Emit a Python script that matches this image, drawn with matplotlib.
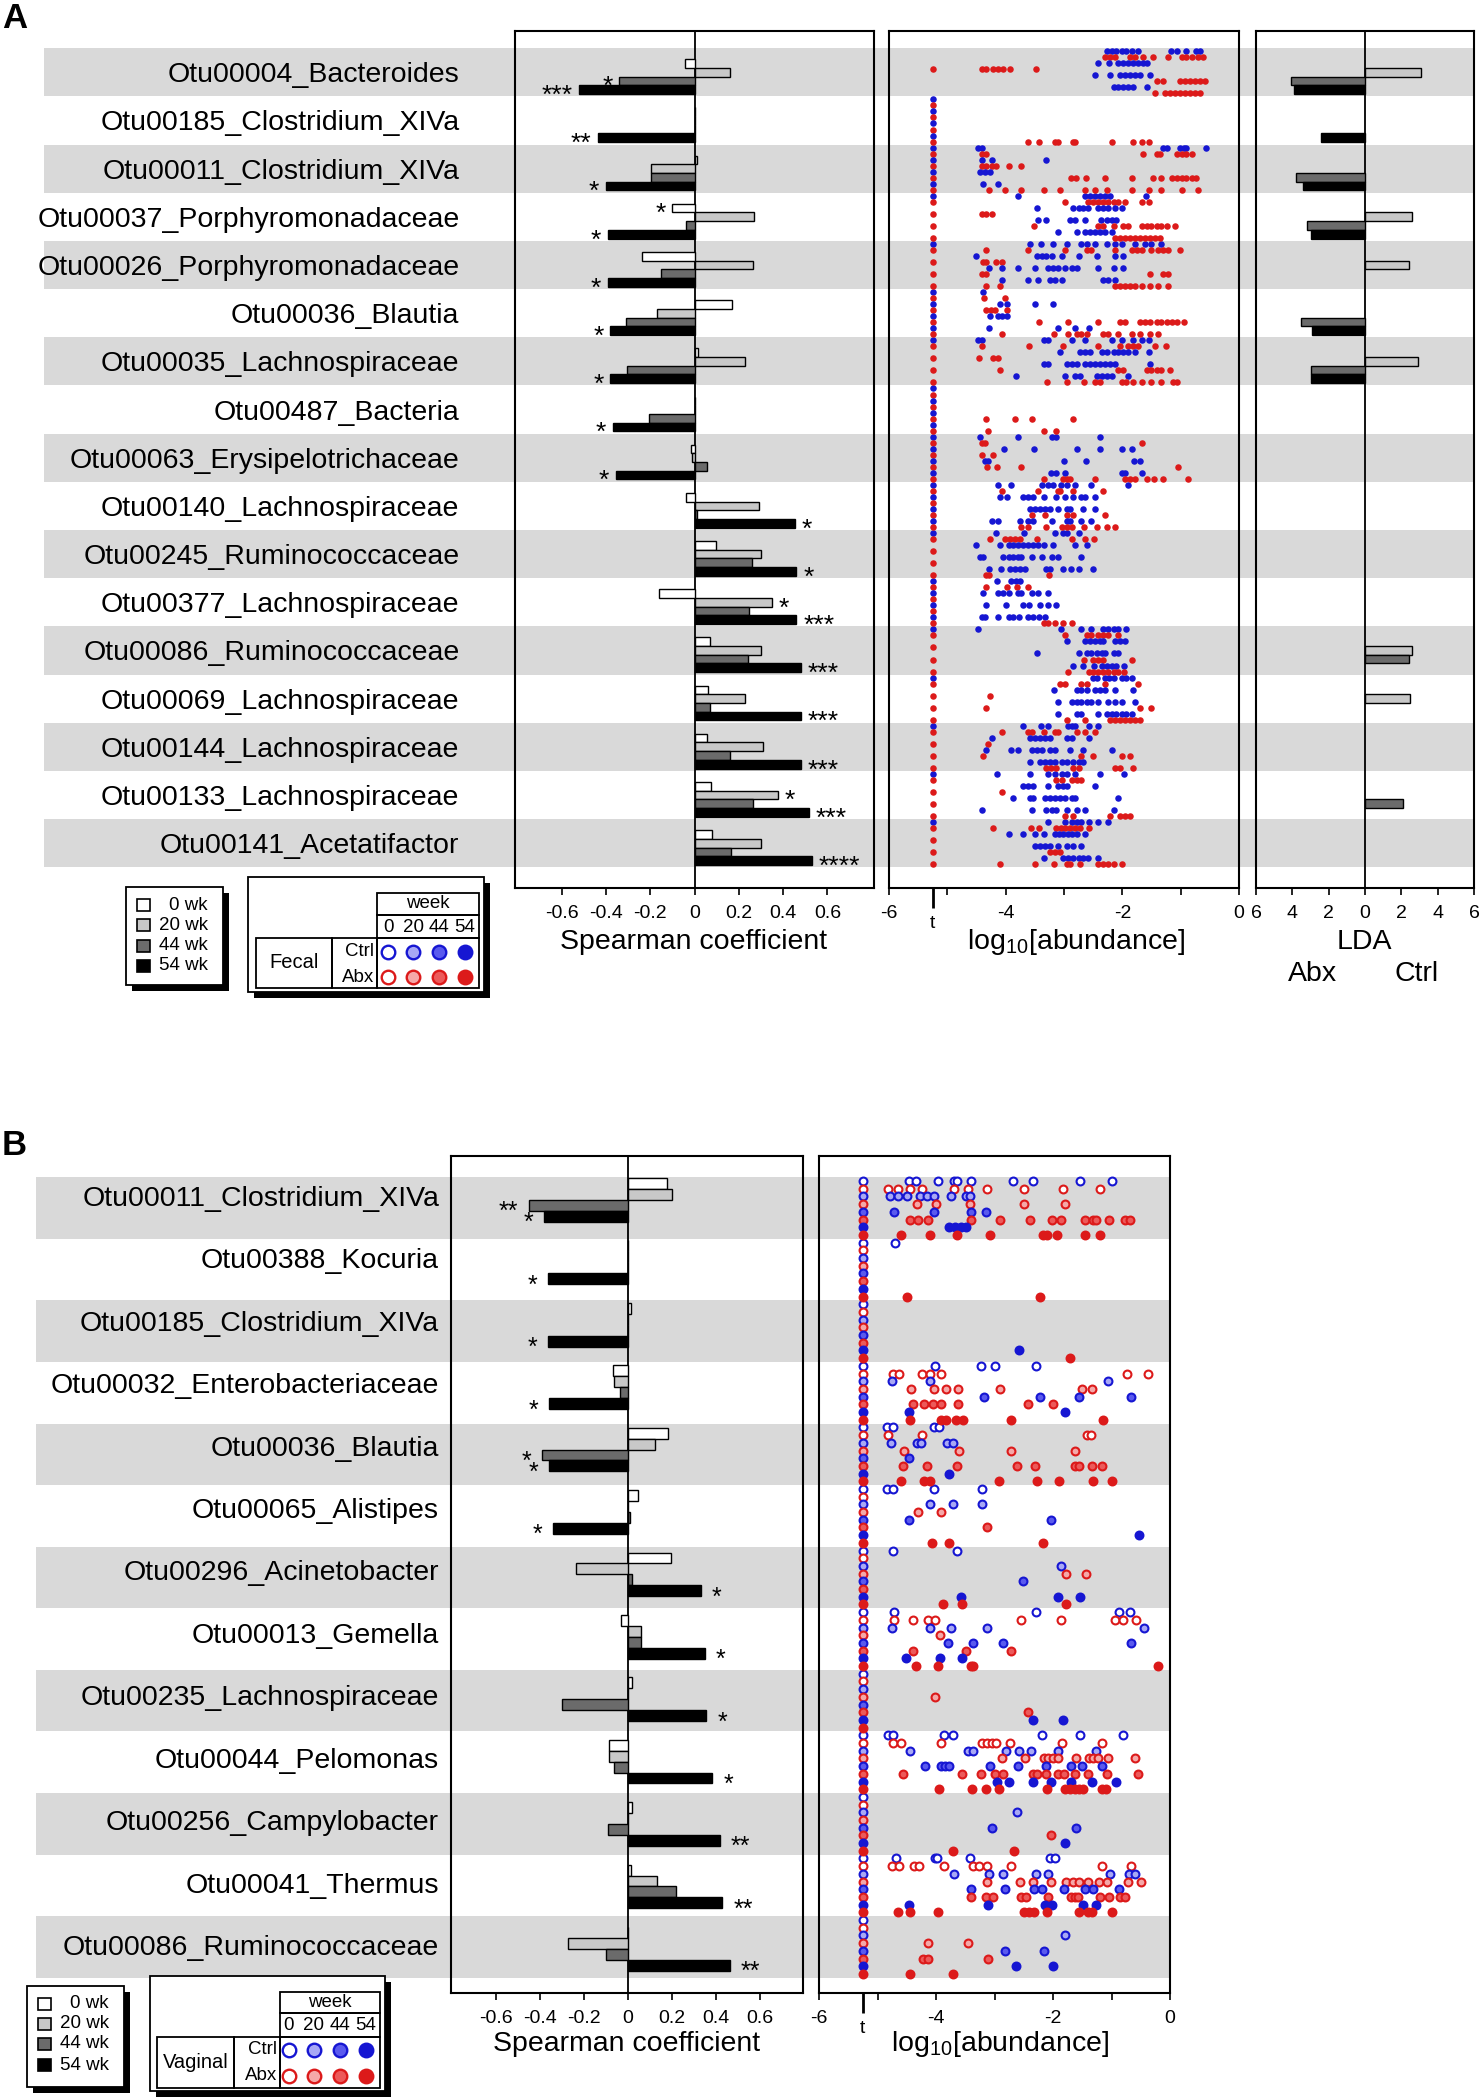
import matplotlib
matplotlib.use("Agg")
import matplotlib.pyplot as plt
import numpy as np
from matplotlib.patches import Rectangle
from matplotlib.transforms import blended_transform_factory

plt.rcParams["font.family"] = ["Liberation Sans", "DejaVu Sans"]
plt.rcParams["mathtext.fontset"] = "custom"
plt.rcParams["mathtext.rm"] = "Liberation Sans"

W, H = 1481, 2100
T = -5.25  # x position of the "t" column (below detection)
LABEL_FS = 20.5
TICK_FS = 14
LEG_FS = 13.5

weeks = ["0 wk", "20 wk", "44 wk", "54 wk"]
week_nums = ["0", "20", "44", "54"]
bar_colors = ["white", "#c8c8c8", "#6b6b6b", "black"]
blue, red = "#1616d2", "#dc1a1a"
ctrl_fills = ["white", "#a8a8f5", "#5a5aee", blue]
abx_fills = ["white", "#f5a8a8", "#ec5a5a", red]

# ---------------- panel A (fecal) ----------------
fecal_otus = ["Otu00004_Bacteroides", "Otu00185_Clostridium_XIVa", "Otu00011_Clostridium_XIVa",
              "Otu00037_Porphyromonadaceae", "Otu00026_Porphyromonadaceae", "Otu00036_Blautia",
              "Otu00035_Lachnospiraceae", "Otu00487_Bacteria", "Otu00063_Erysipelotrichaceae",
              "Otu00140_Lachnospiraceae", "Otu00245_Ruminococcaceae", "Otu00377_Lachnospiraceae",
              "Otu00086_Ruminococcaceae", "Otu00069_Lachnospiraceae", "Otu00144_Lachnospiraceae",
              "Otu00133_Lachnospiraceae", "Otu00141_Acetatifactor"]
fecal_rho_0 = [-0.045, 0.0, 0.01, -0.10, -0.235, 0.17, 0.017, 0.0, -0.017, -0.04, 0.096, -0.16, 0.07, 0.06, 0.055, 0.075, 0.08]
fecal_rho_20 = [0.16, 0.0, -0.195, 0.27, 0.265, -0.17, 0.23, 0.0, -0.01, 0.29, 0.30, 0.35, 0.30, 0.23, 0.31, 0.375, 0.30]
fecal_rho_44 = [-0.34, 0.0, -0.195, -0.04, -0.15, -0.31, -0.305, -0.205, 0.055, 0.01, 0.26, 0.245, 0.24, 0.07, 0.16, 0.265, 0.165]
fecal_rho_54 = [-0.52, -0.435, -0.40, -0.39, -0.39, -0.38, -0.38, -0.37, -0.355, 0.455, 0.46, 0.46, 0.48, 0.48, 0.48, 0.515, 0.53]
fecal_stars = [(0, 2, "*"), (0, 3, "***"), (1, 3, "**"), (2, 3, "*"), (3, 0, "*"), (3, 3, "*"),
               (4, 3, "*"), (5, 3, "*"), (6, 3, "*"), (7, 3, "*"), (8, 3, "*"), (9, 3, "*"),
               (10, 3, "*"), (11, 1, "*"), (11, 3, "***"), (12, 3, "***"), (13, 3, "***"),
               (14, 3, "***"), (15, 1, "*"), (15, 3, "***"), (16, 3, "****")]
fecal_lda_20 = [3.1, 0, 0, 2.6, 2.4, 0, 2.9, 0, 0, 0, 0, 0, 2.6, 2.5, 0, 0, 0]
fecal_lda_44 = [-4.1, 0, -3.8, -3.2, 0, -3.5, -3.0, 0, 0, 0, 0, 0, 2.4, 0, 0, 2.1, 0]
fecal_lda_54 = [-3.9, -2.4, -3.4, -3.0, 0, -2.9, -3.0, 0, 0, 0, 0, 0, 0, 0, 0, 0, 0]

# log10 abundance, one list per OTU row, for each group
fecal_ctrl0 = [
    [-2.27, -2.18, -2.10, -2.01, -1.93, -1.84, -1.73, -1.16, -1.07, -0.90, -0.73, -0.67], [],
    [-4.47, -4.41, -1.30, -1.24, -1.01, -0.95, -0.90, -0.57],
    [-3.78, -2.64, -2.55, -2.47, -2.38, -2.30, -2.21, -1.60],
    [-3.58, -3.40, -3.18, -2.94, -2.70, -2.61, -2.47, -2.27, -2.13, -2.00, -1.78, -1.61, -1.50, -1.33],
    [-4.39],
    [-4.48, -4.40, -3.35, -3.27, -2.87, -2.64, -2.17, -2.01, -1.81, -1.67, -1.55], [],
    [-4.44, -3.78, -3.21, -3.13, -2.38],
    [-4.13, -3.90, -3.37, -3.27, -3.18, -3.05, -2.95, -2.81, -2.53, -1.91],
    [-4.17, -3.68, -3.15, -3.01, -2.94, -2.75],
    [-4.15, -3.91, -3.83, -3.75],
    [-4.47, -3.05, -2.71, -2.53, -2.33, -2.24, -2.15, -2.07, -1.94],
    [-2.51, -2.44, -2.30, -2.23, -2.15, -2.01, -1.93, -1.84],
    [-3.70, -3.40, -3.27, -2.93, -2.86, -2.81, -2.57, -2.41],
    [-4.14, -3.58, -3.27, -3.15, -3.04, -2.95, -2.81, -2.38, -1.97],
    [-3.28, -2.98, -2.87, -2.77, -2.70, -2.57, -2.41, -2.24]]
fecal_abx0 = [
    [-2.30, -2.21, -2.13, -1.87, -1.78, -1.64, -1.47, -1.21, -0.98, -0.90, -0.81, -0.70, -0.61], [],
    [-4.41, -4.33, -1.64, -1.41, -1.35, -1.07, -0.98, -0.90, -0.81],
    [-2.98, -2.58, -2.50, -2.41, -2.33, -2.24, -2.15, -2.07, -1.95, -1.67, -1.55],
    [-4.33, -3.62, -2.98, -2.61, -2.53, -2.13, -1.84, -1.75, -1.67, -1.50, -1.38, -1.30, -1.21, -1.01],
    [-4.37, -4.01],
    [-4.40, -3.60, -3.01, -2.41, -2.04, -1.90, -1.81, -1.73, -1.44, -1.25], [],
    [-4.41, -4.35, -1.67],
    [-4.06, -3.44, -3.11, -3.07, -2.84, -2.33],
    [-4.27, -4.01, -3.93, -3.84, -3.75, -3.47, -2.86, -2.64, -2.48],
    [-4.33, -3.98, -3.81, -3.61],
    [-2.98, -2.61, -2.54, -2.41, -2.33, -2.24, -2.07],
    [-3.07, -2.98, -2.70, -2.61, -2.30, -1.73],
    [-4.06, -3.62, -3.55, -3.35, -3.15, -3.10, -2.78, -2.64, -2.46],
    [-3.13, -3.04, -2.87, -2.78, -2.70],
    [-4.22, -3.57, -3.43, -3.13, -3.05, -2.98, -2.90, -2.81, -2.73, -2.57]]
fecal_ctrl20 = [
    [-2.41, -2.23, -2.07, -1.98, -1.90, -1.81, -1.73, -1.64, -1.58], [],
    [-4.40, -4.24, -3.30],
    [-3.47, -2.84, -2.75, -2.67, -2.58, -2.41, -2.33, -2.24, -2.13, -2.01],
    [-4.50, -3.47, -3.38, -3.30, -3.21, -3.04, -2.75, -2.44, -2.13, -1.98],
    [-4.10, -3.97, -3.50, -3.18],
    [-3.07, -2.73, -2.64, -2.55, -2.35, -2.27, -2.15, -2.07, -1.98, -1.90, -1.78, -1.54], [],
    [-4.02, -3.51, -2.77, -2.38, -2.01, -1.83],
    [-4.09, -3.97, -3.70, -3.61, -3.53, -3.35, -3.13, -2.98, -2.84, -2.70, -2.64, -2.47],
    [-4.50, -4.10, -3.95, -3.87, -3.78, -3.70, -3.61, -3.53, -3.44, -3.35, -3.18, -2.81, -2.61],
    [-4.38, -4.13, -4.04, -3.95, -3.79, -3.73, -3.55, -3.44, -3.27],
    [-2.94, -2.64, -2.55, -2.47, -2.38, -2.33, -2.13, -2.04, -1.95],
    [-3.17, -2.78, -2.70, -2.61, -2.47, -2.38, -2.30, -2.13, -1.81],
    [-4.24, -3.58, -3.50, -3.41, -3.33, -3.24, -2.95, -2.87, -2.57],
    [-3.70, -3.61, -3.53, -3.27, -3.10, -3.01, -2.95, -2.47],
    [-3.95, -3.70, -3.50, -3.35, -3.15, -3.09, -3.01, -2.93, -2.86, -2.78, -2.64]]
fecal_abx20 = [
    [-4.41, -4.33, -4.21, -4.13, -4.04, -3.93, -3.48], [],
    [-4.41, -4.33, -4.24, -4.16, -3.94, -3.74],
    [-4.41, -4.33, -4.24],
    [-4.38, -4.33, -4.16, -4.07],
    [-4.33, -4.25, -4.18, -3.98],
    [-4.46, -4.21, -4.13], [],
    [-4.40, -4.21], [], [], [], [],
    [-4.27], [-4.31], [-4.06], []]
fecal_ctrl44 = [
    [-2.46, -2.21, -2.04, -1.95, -1.87, -1.78, -1.70, -1.53], [],
    [-4.44, -4.35, -4.27],
    [-3.45, -3.30, -2.90, -2.81, -2.64, -2.36, -2.27, -2.18, -2.10],
    [-4.29, -4.07, -3.78, -3.50, -3.27, -3.18, -3.10, -2.98, -2.87, -2.78, -2.41, -2.15, -1.98],
    [-4.27, -4.13, -4.06, -3.97],
    [-3.34, -3.27, -2.95, -2.87, -2.78, -2.64, -2.55, -2.47, -2.38, -2.30, -2.21, -2.13, -1.53], [],
    [-4.35, -4.30, -3.00, -2.63, -1.80, -1.70],
    [-3.58, -3.50, -3.41, -3.33, -3.24, -3.10, -2.95, -2.90, -2.67, -2.46],
    [-4.44, -4.38, -4.04, -3.95, -3.87, -3.78, -3.73, -3.55, -3.38, -3.21, -3.10, -2.71],
    [-4.34, -4.00, -3.71, -3.60, -3.41, -3.28, -3.13],
    [-3.47, -2.75, -2.61, -2.53, -2.44, -2.35, -2.30, -2.14, -2.07],
    [-3.10, -2.87, -2.78, -2.70, -2.61, -2.53, -2.41, -2.25, -2.13, -2.00, -1.78],
    [-4.33, -3.90, -3.79, -3.55, -3.47, -3.38, -3.24, -3.15, -2.90, -2.67, -2.18],
    [-3.88, -3.58, -3.53, -3.33, -3.24, -3.15, -3.07, -2.98, -2.87, -2.81, -2.07],
    [-3.49, -3.41, -3.33, -3.24, -3.10, -2.95, -2.84, -2.70]]
fecal_abx44 = [
    [-1.41, -1.30, -1.01, -0.93, -0.84, -0.75, -0.67, -0.58], [],
    [-2.88, -2.80, -2.63, -2.30, -1.83, -1.47, -1.33, -1.15, -1.07, -0.98, -0.90, -0.81, -0.73],
    [-3.51, -2.41, -2.33, -2.15, -1.98, -1.90, -1.67, -1.58, -1.50, -1.41, -1.33, -1.24, -1.10],
    [-4.41, -4.33, -1.53, -1.30, -1.21],
    [-3.43, -2.93, -2.42, -2.04, -1.95, -1.70, -1.61, -1.53, -1.41, -1.33, -1.24, -1.15, -1.07, -0.95],
    [-4.10, -2.07, -1.98, -1.58, -1.50, -1.41, -1.33, -1.18],
    [-4.34, -3.84, -3.55, -2.84],
    [-4.32, -4.14, -3.73, -1.04],
    [-3.55, -3.33, -2.94, -2.84, -2.30], [], [],
    [-2.65, -2.50, -2.41, -2.33, -1.84],
    [-4.33, -1.70, -1.50],
    [-4.38, -2.70, -2.50, -2.01, -1.87], [],
    [-3.24, -3.15, -3.07]]
fecal_ctrl54 = [
    [-2.15, -2.07, -1.98, -1.90, -1.81, -1.58], [],
    [-4.38, -4.13],
    [-3.11, -2.77, -2.64, -2.55, -2.47, -2.38, -2.30, -2.18],
    [-4.07, -3.61, -3.44, -3.24, -3.15, -3.04, -2.33, -2.24, -2.13],
    [-4.29, -3.11, -2.81, -2.57],
    [-3.82, -2.98, -2.81, -2.73, -2.44, -2.35, -2.27, -2.18, -1.90], [],
    [-3.23, -3.13, -2.98, -2.01, -1.95, -1.66],
    [-4.24, -4.13, -3.75, -3.62, -3.53, -3.21, -2.94, -2.90, -2.70, -2.53],
    [-4.29, -4.08, -3.93, -3.84, -3.75, -3.67, -3.30, -3.24, -3.01, -2.88, -2.74, -2.50],
    [-4.41, -4.35, -4.13, -3.94, -3.87, -3.77, -3.62, -3.53, -3.43, -3.33],
    [-2.85, -2.67, -2.48, -2.35, -2.27, -2.18, -2.10, -1.97],
    [-3.10, -2.78, -2.70, -2.41, -2.27, -2.18, -2.10, -2.01, -1.93, -1.84],
    [-3.58, -3.41, -3.33, -3.24, -3.15, -3.04, -2.95, -2.84, -2.75, -2.67],
    [-4.41, -3.55, -3.30, -3.21, -3.13, -2.95, -2.78, -2.64, -2.14],
    [-3.34, -3.01, -2.93, -2.84, -2.75, -2.67, -2.58, -2.41]]
fecal_abx54 = [
    [-1.44, -1.27, -1.18, -1.10, -1.01, -0.93, -0.84, -0.75, -0.67],
    [-3.62, -3.42, -3.15, -3.10, -2.84, -2.81, -2.18, -1.81, -1.67, -1.54],
    [-4.28, -4.01, -3.73, -3.34, -3.07, -2.64, -2.46, -2.27, -1.83, -1.55, -1.33, -0.98, -0.71],
    [-2.13, -2.04, -1.95, -1.87, -1.78, -1.70, -1.61, -1.53, -1.44, -1.35],
    [-4.33, -4.10, -2.13, -2.04, -1.95, -1.87, -1.78, -1.67, -1.53, -1.38, -1.21],
    [-4.07, -3.17, -2.93, -2.78, -2.70, -2.61, -2.33, -2.24, -2.07, -1.84, -1.70, -1.53, -1.38],
    [-3.29, -2.94, -2.66, -2.47, -2.38, -2.01, -1.93, -1.81, -1.67, -1.50, -1.34, -1.13, -1.07],
    [-4.30, -3.34, -3.14],
    [-3.34, -3.01, -2.95, -2.90, -2.47, -1.95, -1.87, -1.78, -1.58, -1.45, -1.31, -0.88],
    [-3.73, -3.61, -3.30, -3.04, -2.95, -2.87, -2.66, -2.44, -2.27, -2.13],
    [-4.34, -4.29, -3.26],
    [-3.34, -3.27, -3.15, -3.01, -2.87],
    [-2.93, -2.57, -2.50, -2.41, -2.33, -2.24, -2.15, -2.07, -1.97],
    [-2.94, -2.64, -2.21, -2.13, -2.04, -1.95, -1.87, -1.78, -1.70],
    [-3.31, -3.22, -3.13, -2.84, -2.75, -2.13, -2.04, -1.81],
    [-2.98, -2.84, -2.21, -2.04, -1.95, -1.87],
    [-4.10, -3.49, -3.17, -2.95, -2.90, -2.73, -2.41, -2.33, -2.24, -2.15, -2.01]]
# rows in which each group has a dot in the "t" column
fecal_all = list(range(1, 17))
fecal_ctrl_t = [1, 2, 5, 7, 8, 9, 11]
fecal_t_rows = [fecal_all, fecal_all, fecal_ctrl_t, [0] + fecal_all,
                fecal_ctrl_t, fecal_all, fecal_ctrl_t, fecal_all]

# ---------------- panel B (vaginal) ----------------
vag_otus = ["Otu00011_Clostridium_XIVa", "Otu00388_Kocuria", "Otu00185_Clostridium_XIVa",
            "Otu00032_Enterobacteriaceae", "Otu00036_Blautia", "Otu00065_Alistipes",
            "Otu00296_Acinetobacter", "Otu00013_Gemella", "Otu00235_Lachnospiraceae",
            "Otu00044_Pelomonas", "Otu00256_Campylobacter", "Otu00041_Thermus",
            "Otu00086_Ruminococcaceae"]
vag_rho_0 = [0.178, 0.0, 0.015, -0.067, 0.183, 0.048, 0.195, -0.03, 0.02, -0.083, 0.02, 0.017, 0.0]
vag_rho_20 = [0.20, 0.0, 0.0, -0.06, 0.126, 0.0, -0.233, 0.06, 0.0, -0.083, 0.0, 0.135, -0.273]
vag_rho_44 = [-0.45, 0.0, 0.0, -0.036, -0.39, 0.01, 0.02, 0.06, -0.30, -0.06, -0.09, 0.22, -0.10]
vag_rho_54 = [-0.38, -0.36, -0.36, -0.357, -0.357, -0.34, 0.333, 0.35, 0.357, 0.385, 0.42, 0.43, 0.464]
vag_stars = [(0, 2, "**"), (0, 3, "*"), (1, 3, "*"), (2, 3, "*"), (3, 3, "*"), (4, 2, "*"),
             (4, 3, "*"), (5, 3, "*"), (6, 3, "*"), (7, 3, "*"), (8, 3, "*"), (9, 3, "*"),
             (10, 3, "**"), (11, 3, "**"), (12, 3, "**")]

vag_ctrl0 = [[-4.46, -4.34, -3.96, -3.69, -3.64, -3.40, -2.69, -2.35, -1.54, -1.00], [-4.70], [],
             [-4.01, -3.23, -3.00, -2.29], [-4.84, -4.73, -4.04, -3.95], [-4.84, -4.73, -4.04, -3.22],
             [-4.74, -3.64], [-4.71, -2.29, -0.87, -0.68], [],
             [-4.82, -4.74, -3.87, -3.71, -2.19, -1.54, -0.81], [],
             [-4.69, -4.01, -3.98, -3.42, -2.05, -1.96], []]
vag_abx0 = [[-4.82, -4.65, -4.44, -4.24, -3.69, -3.45, -3.13, -2.50, -1.83, -1.20], [], [],
            [-4.73, -4.63, -4.24, -4.11, -3.91, -0.73, -0.37], [-4.82, -4.24, -1.42, -1.35], [], [],
            [-4.71, -4.40, -4.13, -4.01, -2.55, -1.86, -0.94, -0.81, -0.58], [],
            [-4.74, -4.59, -3.92, -3.21, -3.13, -3.05, -2.98, -2.73, -1.85, -1.16], [],
            [-4.75, -4.63, -4.38, -4.29, -3.87, -3.37, -3.27, -3.13, -2.71, -1.16, -0.66], []]
vag_ctrl20 = [[-4.78, -4.65, -4.49, -4.28, -4.15, -4.04, -3.75, -3.48, -3.42], [], [],
              [-4.75, -4.11, -1.06], [-4.77, -4.32, -4.26, -3.81, -3.71], [-4.10, -3.71, -3.22],
              [-1.87], [-4.75, -4.11, -3.75, -3.13, -0.45], [],
              [-4.44, -3.46, -3.36, -2.81, -2.58, -2.37, -1.91, -1.27], [-2.62],
              [-3.69, -3.10, -2.85, -2.29, -2.09, -1.03, -0.70, -0.60], [-1.79]]
vag_abx20 = [[-4.32, -4.00, -3.42, -2.50, -1.80], [], [],
             [-4.43, -4.04, -3.83, -3.63, -2.91, -1.50, -1.33], [-4.55, -3.61, -2.72, -1.63],
             [-4.31, -3.92], [-1.77, -1.44], [-3.94], [-4.01],
             [-2.87, -2.48, -2.16, -2.08, -2.00, -1.91, -1.60, -1.39, -1.31, -1.23, -1.06, -0.60], [],
             [-3.13, -2.56, -2.35, -2.04, -1.77, -1.66, -1.56, -1.40, -1.22, -1.08, -0.71, -0.50],
             [-4.14, -3.46]]
vag_ctrl44 = [[-4.72, -4.04, -3.40, -3.15], [], [], [-3.18, -2.23, -1.56, -0.66], [-4.46],
              [-4.46, -2.04], [-2.52], [-3.79, -3.37, -2.85, -0.67], [],
              [-4.19, -3.92, -3.85, -3.77, -3.08, -2.60, -2.12, -1.70, -1.50, -1.17], [-3.04, -1.60],
              [-3.40, -2.82, -2.33, -2.19, -1.81, -1.46, -1.31, -0.87], [-2.82, -2.15]]
vag_abx44 = [[-4.44, -4.31, -4.13, -3.40, -2.91, -2.40, -2.02, -1.86, -1.45, -1.31, -1.26, -1.05, -0.77, -0.68],
             [], [], [-4.40, -4.21, -4.05, -3.91, -3.63, -2.42, -2.00],
             [-4.56, -4.15, -3.64, -2.62, -2.31, -1.62, -1.56, -1.33, -1.17], [-3.13], [],
             [-4.40, -3.48, -2.71], [-2.42],
             [-4.56, -3.55, -3.23, -3.00, -2.86, -2.35, -2.27, -2.12, -1.92, -1.81, -1.62, -1.40, -1.08, -0.54],
             [-2.03],
             [-3.41, -3.15, -3.02, -2.54, -2.46, -2.08, -1.70, -1.62, -1.58, -1.20, -1.04, -0.85, -0.77],
             [-4.23, -4.13, -3.11]]
vag_ctrl54 = [[-3.77, -3.67, -3.58, -3.48], [], [-2.58], [-4.46, -1.79], [-3.77], [-0.53],
              [-3.58, -1.91, -1.53], [-4.51, -3.94, -3.56], [-2.35, -1.83],
              [-2.95, -2.76, -2.34, -2.04, -1.70, -1.33, -0.93], [-1.79],
              [-4.46, -3.11, -2.13, -2.02, -1.48, -1.26], [-2.63, -2.00]]
vag_abx54 = [[-4.60, -4.11, -3.64, -3.07, -2.17, -2.11, -1.94, -1.46, -1.20], [-4.50, -2.23], [-1.71],
             [-4.44, -3.91, -3.83, -3.65, -3.54, -2.72, -1.14],
             [-4.60, -4.21, -4.11, -2.92, -2.27, -1.90, -1.31, -1.00], [-4.06, -3.78, -2.17],
             [-3.88, -3.55, -1.77], [-4.34, -3.96, -3.40, -3.36, -0.20], [],
             [-3.95, -3.39, -3.15, -2.92, -2.11, -1.80, -1.71, -1.63, -1.56, -1.48, -1.17, -1.10],
             [-3.71, -2.67],
             [-4.65, -4.44, -3.96, -2.49, -2.41, -2.33, -2.11, -1.56, -1.41, -1.33, -0.99],
             [-4.44, -3.71]]
vag_t_rows = [list(range(13))] * 8

fig = plt.figure(figsize=(W / 100, H / 100), dpi=100)


def px_axes(x0, y0, x1, y1):
    ax = fig.add_axes([x0 / W, 1 - y1 / H, (x1 - x0) / W, (y1 - y0) / H])
    ax.set_facecolor("none")
    for s in ax.spines.values():
        s.set_linewidth(1.5)
    return ax


def ftext(x, y, s, **kw):
    kw.setdefault("ha", "center")
    kw.setdefault("va", "baseline")
    kw.setdefault("fontsize", LABEL_FS)
    fig.text(x / W, 1 - y / H, s, **kw)


def bands(ax, n, x0, x1):
    tr = blended_transform_factory(fig.transFigure, ax.transData)
    for r in range(0, n, 2):
        fig.add_artist(Rectangle((x0 / W, r - 0.5), (x1 - x0) / W, 1.0, transform=tr,
                                 facecolor="#d9d9d9", edgecolor="none", zorder=-1))


def spearman(ax, otus, rhos, stars, offs, h, xlim, ylim, pad, star_fs, star_dy, gap):
    y = np.arange(len(otus))
    ax.axvline(0, color="black", lw=1.3, zorder=2)
    for k, vals in enumerate(rhos):
        ax.barh(y + offs[k], vals, height=h, color=bar_colors[k], edgecolor="black",
                linewidth=1.0, zorder=3)
    for r, k, lab in stars:
        v = rhos[k][r]
        x, ha = (v - gap, "right") if v < 0 else (v + gap, "left")
        ax.annotate(lab, (x, r + offs[k]), xytext=(0, -star_dy), textcoords="offset points",
                    ha=ha, va="baseline", fontsize=star_fs, zorder=5)
    ax.set_xlim(*xlim)
    ax.set_ylim(*ylim)
    ax.set_yticks(y, otus, fontsize=LABEL_FS)
    ax.tick_params(axis="y", length=0, pad=pad)
    xt = [-0.6, -0.4, -0.2, 0, 0.2, 0.4, 0.6]
    ax.set_xticks(xt, ["-0.6", "-0.4", "-0.2", "0", "0.2", "0.4", "0.6"])
    ax.tick_params(axis="x", direction="out", length=5, width=1.2, labelsize=TICK_FS, pad=7)


def abundance(ax, groups, t_rows, ylim, filled):
    for g, rows in enumerate(groups):
        xs, ys = [], []
        for r, vals in enumerate(rows):
            yy = r - 0.5 + (g + 0.5) / 8
            if r in t_rows[g]:
                xs.append(T)
                ys.append(yy)
            xs.extend(vals)
            ys.extend([yy] * len(vals))
        col = blue if g % 2 == 0 else red
        if filled:
            ax.scatter(xs, ys, s=22, color=col, linewidths=0, zorder=3)
        else:
            fc = (ctrl_fills if g % 2 == 0 else abx_fills)[g // 2]
            ax.scatter(xs, ys, s=32, facecolors=fc, edgecolors=col, linewidths=1.5, zorder=3)
    ax.set_xlim(-6, 0)
    ax.set_ylim(*ylim)
    ax.set_yticks([])
    ax.set_xticks(range(-6, 1), ["-6", "", "-4", "", "-2", "", "0"])
    ax.set_xticks([T], ["t"], minor=True)
    ax.tick_params(axis="x", which="major", direction="out", length=5, width=1.2, labelsize=TICK_FS, pad=7)
    ax.tick_params(axis="x", which="minor", direction="out", length=14.5, width=2, labelsize=TICK_FS, pad=5)


def lda(ax, vals_by_week, offs, h, ylim):
    ax.axvline(0, color="black", lw=1.3, zorder=2)
    for k, vals in zip([1, 2, 3], vals_by_week):
        idx = [i for i, v in enumerate(vals) if v != 0]
        ax.barh([i + offs[k] for i in idx], [vals[i] for i in idx], height=h,
                color=bar_colors[k], edgecolor="black", linewidth=1.0, zorder=3)
    ax.set_xlim(-6, 6)
    ax.set_ylim(*ylim)
    ax.set_yticks([])
    xt = list(range(-6, 7, 2))
    ax.set_xticks(xt, [str(abs(v)) for v in xt])
    ax.tick_params(axis="x", direction="out", length=5, width=1.2, labelsize=TICK_FS, pad=7)


def bar_legend(ov, x0, y0, x1, y1, ys, sq_x, txt_x):
    ov.add_patch(Rectangle((x0 + 6, y0 + 6), x1 - x0, y1 - y0, facecolor="black", edgecolor="none"))
    ov.add_patch(Rectangle((x0, y0), x1 - x0, y1 - y0, facecolor="white", edgecolor="black", lw=1.3))
    for k, yy in enumerate(ys):
        ov.add_patch(Rectangle((sq_x, yy - 6), 13, 12, facecolor=bar_colors[k], edgecolor="black", lw=1.2))
        ov.text(txt_x, yy, weeks[k], ha="right", va="center", fontsize=LEG_FS)


def dot_legend(ov, box, cx, name, dot_x, dot_y):
    x0, y0, x1, y1 = box
    c0, c1, c2, c3, r0, r1, r2, r3 = cx
    ov.add_patch(Rectangle((x0 + 6, y0 + 6), x1 - x0, y1 - y0, facecolor="black", edgecolor="none"))
    ov.add_patch(Rectangle((x0, y0), x1 - x0, y1 - y0, facecolor="white", edgecolor="black", lw=1.3))
    kw = dict(facecolor="none", edgecolor="black", lw=1.3)
    ov.add_patch(Rectangle((c2, r0), c3 - c2, r1 - r0, **kw))
    ov.add_patch(Rectangle((c2, r1), c3 - c2, r2 - r1, **kw))
    ov.add_patch(Rectangle((c0, r2), c1 - c0, r3 - r2, **kw))
    ov.add_patch(Rectangle((c1, r2), c2 - c1, r3 - r2, **kw))
    ov.add_patch(Rectangle((c2, r2), c3 - c2, r3 - r2, **kw))
    ov.text((c2 + c3) / 2, (r0 + r1) / 2, "week", ha="center", va="center", fontsize=LEG_FS)
    for k, xx in enumerate(dot_x):
        ov.text(xx, (r1 + r2) / 2 + 1, week_nums[k], ha="center", va="center", fontsize=LEG_FS)
        ov.scatter([xx], [dot_y[0]], s=95, facecolors=ctrl_fills[k], edgecolors=blue, linewidths=1.7, zorder=6)
        ov.scatter([xx], [dot_y[1]], s=95, facecolors=abx_fills[k], edgecolors=red, linewidths=1.7, zorder=6)
    ov.text((c0 + c1) / 2, (r2 + r3) / 2, name, ha="center", va="center", fontsize=LEG_FS + 1)
    ov.text(c2 - 3, dot_y[0], "Ctrl", ha="right", va="center", fontsize=LEG_FS)
    ov.text(c2 - 3, dot_y[1], "Abx", ha="right", va="center", fontsize=LEG_FS)


# ---------------- panel A ----------------
ylim_a = (16.93, -0.857)
offs_a = [-0.18, 0.0, 0.18, 0.36]
axA1 = px_axes(515, 31, 874, 888)
axA2 = px_axes(889, 31, 1239, 888)
axA3 = px_axes(1256, 31, 1474, 888)
bands(axA2, len(fecal_otus), 44, 1474)
spearman(axA1, fecal_otus, [fecal_rho_0, fecal_rho_20, fecal_rho_44, fecal_rho_54], fecal_stars,
         offs_a, 0.18, (-0.81, 0.81), ylim_a, 40, 19, 9.5, 0.03)
abundance(axA2, [fecal_ctrl0, fecal_abx0, fecal_ctrl20, fecal_abx20, fecal_ctrl44, fecal_abx44,
                 fecal_ctrl54, fecal_abx54], fecal_t_rows, ylim_a, True)
lda(axA3, [fecal_lda_20, fecal_lda_44, fecal_lda_54], offs_a, 0.18, ylim_a)

ftext(694, 949, "Spearman coefficient")
ftext(1076, 949, r"log$_{10}$[abundance]")
ftext(1364, 949, "LDA")
ftext(1312, 981, "Abx")
ftext(1417, 981, "Ctrl")
ftext(2, 28, "A", ha="left", fontsize=25, fontweight="bold")

# ---------------- panel B ----------------
ylim_b_bar = (12.77, -0.641)
ylim_b_dot = (12.747, -0.845)
offs_b = [-0.20, -0.025, 0.15, 0.325]
axB1 = px_axes(451, 1156, 803, 1993)
axB2 = px_axes(819, 1156, 1170, 1993)
bands(axB2, len(vag_otus), 36, 1169)
spearman(axB1, vag_otus, [vag_rho_0, vag_rho_20, vag_rho_44, vag_rho_54], vag_stars,
         offs_b, 0.175, (-0.803, 0.797), ylim_b_bar, 8.6, 18, 10, 0.05)
abundance(axB2, [vag_ctrl0, vag_abx0, vag_ctrl20, vag_abx20, vag_ctrl44, vag_abx44,
                 vag_ctrl54, vag_abx54], vag_t_rows, ylim_b_dot, False)

ftext(627, 2051, "Spearman coefficient")
ftext(1000, 2051, r"log$_{10}$[abundance]")
ftext(2, 1155, "B", ha="left", fontsize=25, fontweight="bold")

# ---------------- legends ----------------
ov = fig.add_axes([0, 0, 1, 1], zorder=5)
ov.set_xlim(0, W)
ov.set_ylim(H, 0)
ov.axis("off")

bar_legend(ov, 126, 887, 223, 985, [905, 925, 946, 966], 137, 208)
dot_legend(ov, (248, 877, 484, 992), (256, 332, 377, 479, 893, 915, 938, 988), "Fecal",
           [388, 413, 439, 465], [952, 977])
bar_legend(ov, 27, 1986, 124, 2087, [2004, 2024, 2044, 2065], 38, 109)
dot_legend(ov, (150, 1976, 385, 2091), (157, 234, 280, 380, 1992, 2013, 2037, 2088), "Vaginal",
           [289, 314, 340, 366], [2050, 2076])

fig.savefig("out.png", dpi=100)
